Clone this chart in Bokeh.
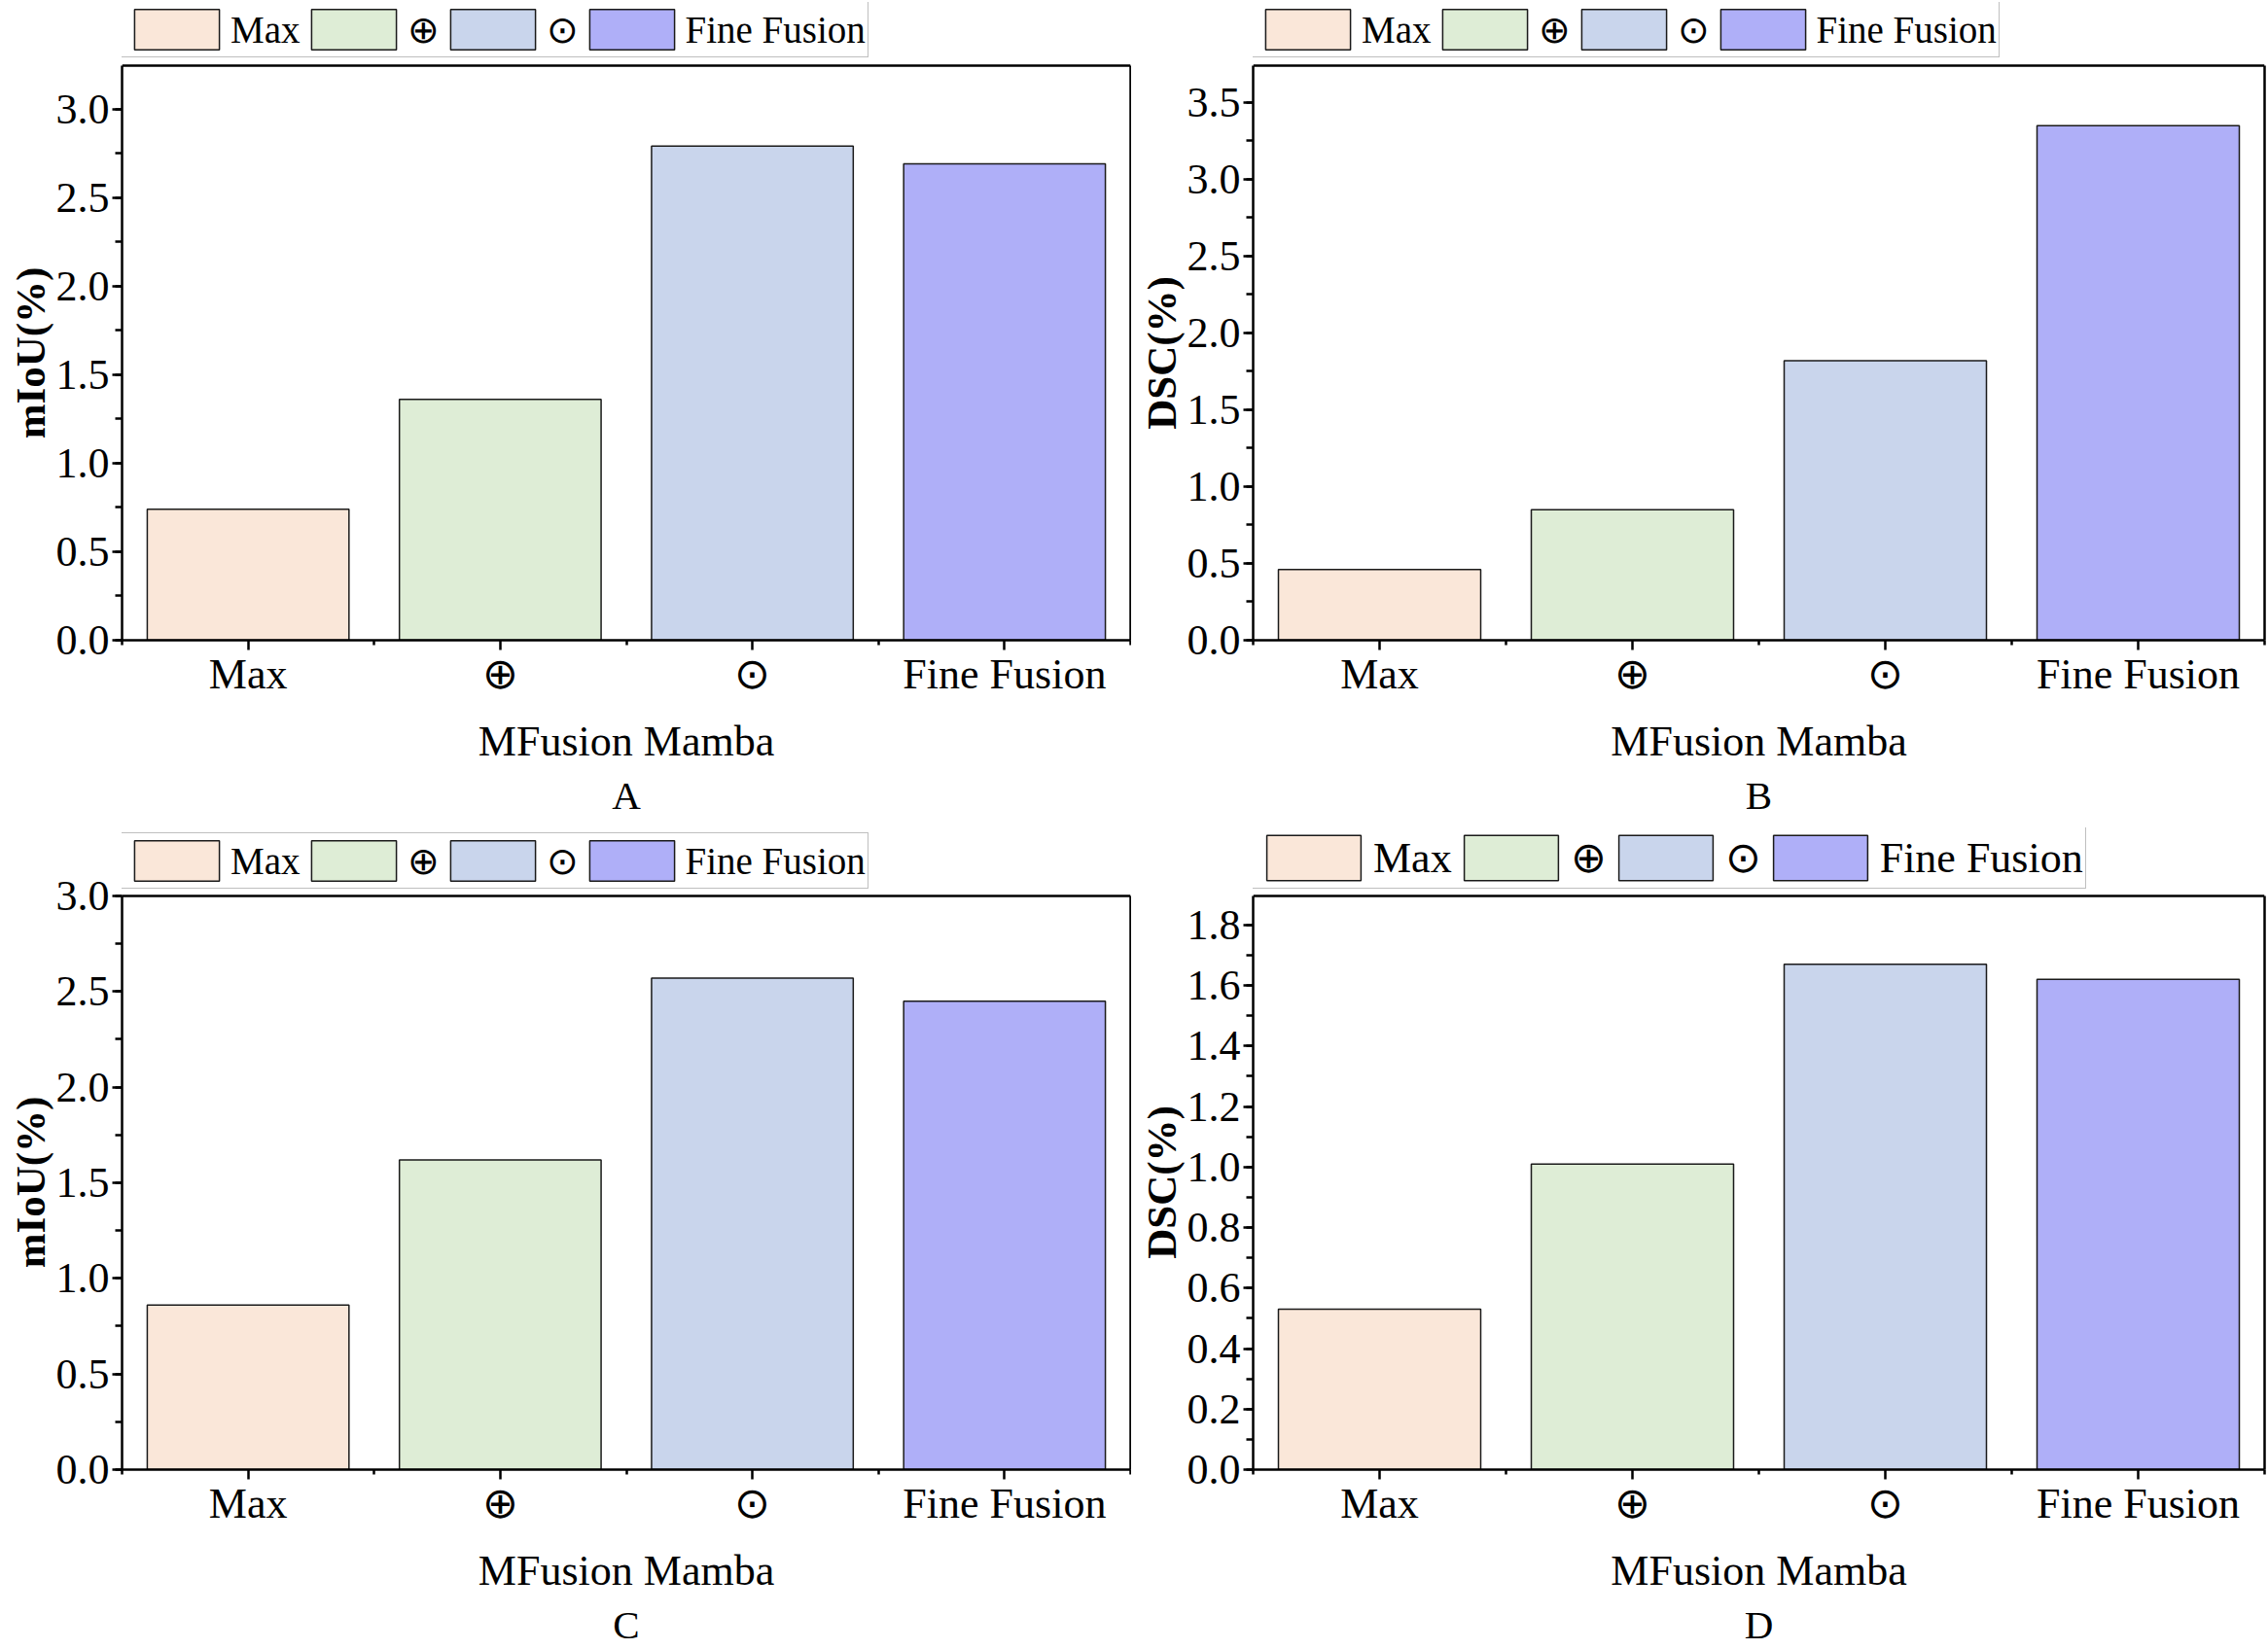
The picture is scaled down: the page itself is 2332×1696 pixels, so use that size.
from bokeh.plotting import figure
from bokeh.models import (ColumnDataSource, Range1d, FixedTicker, SingleIntervalTicker,
                          NumeralTickFormatter, Legend, LegendItem, Title, LinearAxis, Span)
from bokeh.layouts import column, row
from bokeh.embed import file_html
from bokeh.resources import INLINE

# ---------------- data ----------------
methods = ["Max", "\u2295", "\u2299", "Fine Fusion"]
bar_colors = ["#FAE7D9", "#DEEDD6", "#C9D5EC", "#AFAFF8"]
miou_a = [0.74, 1.36, 2.79, 2.69]
dsc_b = [0.46, 0.85, 1.82, 3.35]
miou_c = [0.86, 1.62, 2.57, 2.45]
dsc_d = [0.53, 1.01, 1.67, 1.62]
x_title = "MFusion Mamba"
panel_letters = ["A", "B", "C", "D"]
y_titles = ["mIoU(%)", "DSC(%)", "mIoU(%)", "DSC(%)"]
y_ends = [3.245, 3.74, 3.0005, 1.896]
y_steps = [0.5, 0.5, 0.5, 0.2]

FONT = "Liberation Serif"
AX_W = 2.5
# approximate advance widths (em) of bold serif glyphs, used to centre the y title
BOLD_EM = {"m": 0.833, "I": 0.389, "o": 0.5, "U": 0.722, "(": 0.333, "%": 1.0,
           ")": 0.333, "D": 0.722, "S": 0.556, "C": 0.722}


def panel(values, ytitle, letter, yend, ystep, width, height, bl, br, bt, bb,
          legend_zone, leg_font, patch_w, patch_h, leg_gap):
    # the frame also holds a strip above the data box where the legend sits
    frame_h = height - bt - bb
    box_h = frame_h - legend_zone
    y_top = yend * frame_h / box_h

    xs = [i + 0.5 for i in range(len(methods))]
    src = ColumnDataSource(dict(x=xs, v=values, name=methods, color=bar_colors))
    p = figure(width=width, height=height, output_backend="svg", toolbar_location=None,
               x_range=Range1d(0, len(methods)), y_range=Range1d(0, y_top),
               min_border_left=bl, min_border_right=br, min_border_top=bt,
               min_border_bottom=bb)
    r = p.vbar(x="x", top="v", bottom=0, width=0.8, source=src,
               fill_color="color", line_color="#1a1a1a", line_width=1.5)

    p.xgrid.grid_line_color = None
    p.ygrid.grid_line_color = None
    p.outline_line_color = None
    p.background_fill_color = "white"
    p.border_fill_color = "white"

    xa = p.xaxis[0]
    ya = p.yaxis[0]
    xa.ticker = FixedTicker(ticks=xs, minor_ticks=list(range(len(methods) + 1)))
    xa.major_label_overrides = {x: n for x, n in zip(xs, methods)}
    ya.ticker = SingleIntervalTicker(interval=ystep, num_minor_ticks=2)
    ya.formatter = NumeralTickFormatter(format="0.0")
    ya.bounds = (0, yend)

    for ax in (xa, ya):
        ax.axis_line_width = AX_W
        ax.axis_line_color = "black"
        ax.major_tick_line_width = AX_W
        ax.minor_tick_line_width = AX_W
        ax.major_tick_line_color = "black"
        ax.minor_tick_line_color = "black"
        ax.major_tick_in = 0
        ax.minor_tick_in = 0
        ax.major_tick_out = 10
        ax.major_label_text_font = FONT
        ax.major_label_text_font_size = "44px"
        ax.major_label_text_color = "black"
        ax.axis_label_text_font = FONT
        ax.axis_label_text_color = "black"
    xa.minor_tick_out = 5
    ya.minor_tick_out = 7

    xa.axis_label = x_title
    xa.axis_label_text_font_size = "44px"
    xa.axis_label_text_font_style = "normal"
    xa.major_label_standoff = 0
    xa.axis_label_standoff = 17

    ya.major_label_standoff = 3
    # y title, centred on the data box (not on the legend strip)
    title_px = 43
    text_len = sum(BOLD_EM.get(ch, 0.5) for ch in ytitle) * title_px
    p.add_layout(Title(text=ytitle, align="left", offset=box_h / 2 - text_len / 2,
                       text_font=FONT, text_font_size=f"{title_px}px",
                       text_font_style="bold", text_color="black", standoff=0), "left")

    # right and top sides of the box
    right = LinearAxis(bounds=(0, yend), ticker=FixedTicker(ticks=[]),
                       axis_line_width=AX_W, axis_line_color="black",
                       major_tick_out=0, minor_tick_out=0,
                       major_label_text_font_size="0px")
    p.add_layout(right, "right")
    p.add_layout(Span(location=yend, dimension="width", line_color="black",
                      line_width=AX_W))

    p.add_layout(Title(text=letter, align="center", text_font=FONT,
                       text_font_size="41px", text_font_style="normal",
                       text_color="black", standoff=6), "below")

    # legend glyph boxes are drawn with a 10% inset on every side
    glyph_w = patch_w / 0.8
    glyph_h = patch_h / 0.8
    items = [LegendItem(label=n, renderers=[r], index=i) for i, n in enumerate(methods)]
    legend = Legend(items=items, orientation="horizontal",
                    location=(-1, box_h + leg_gap),
                    label_text_font=FONT, label_text_font_size=leg_font,
                    label_text_color="black",
                    glyph_width=int(round(glyph_w)), glyph_height=int(round(glyph_h)),
                    label_standoff=1, spacing=0, padding=2, margin=0,
                    border_line_color="#808080", border_line_width=1.5,
                    background_fill_color="white", background_fill_alpha=1.0)
    p.add_layout(legend)
    return p


# top row: 848 tall, data box 67..658 ; bottom row: 848 tall, data box 921..1512
pa = panel(miou_a, y_titles[0], panel_letters[0], y_ends[0], y_steps[0],
           1163, 848, 125, 1, 2, 190, 65, "39px", 87, 42, 8)
pb = panel(dsc_b, y_titles[1], panel_letters[1], y_ends[1], y_steps[1],
           1169, 848, 125, 4, 2, 190, 65, "39px", 87, 42, 8)
pc = panel(miou_c, y_titles[2], panel_letters[2], y_ends[2], y_steps[2],
           1163, 848, 125, 1, 3, 184, 70, "39px", 87, 42, 6)
pd = panel(dsc_d, y_titles[3], panel_letters[3], y_ends[3], y_steps[3],
           1169, 848, 125, 4, 3, 184, 70, "44px", 97, 46, 6)

layout = column(row(pa, pb), row(pc, pd))
open("out.html", "w").write(file_html(layout, INLINE))
